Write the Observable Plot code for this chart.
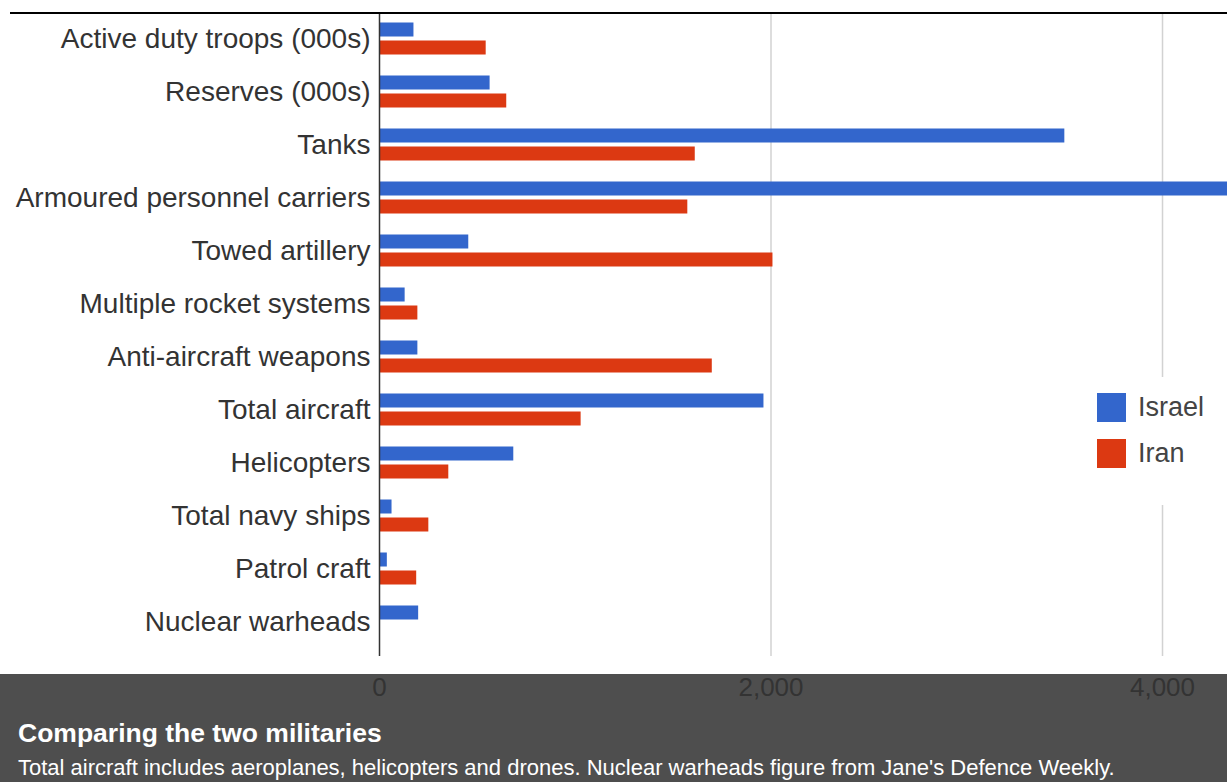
<!DOCTYPE html>
<html>
<head>
<meta charset="utf-8">
<script src="https://cdn.jsdelivr.net/npm/d3@7"></script>
<script src="https://cdn.jsdelivr.net/npm/@observablehq/plot@0.6"></script>
<style>
  html, body { margin: 0; padding: 0; overflow: hidden; background: #fff; }
  #page {
    position: relative; width: 1227px; height: 782px; overflow: hidden;
    background: linear-gradient(to bottom, #fff 0px, #fff 674px, #4e4e4e 674px, #4e4e4e 782px);
    font-family: Arial, "Liberation Sans", sans-serif;
  }
  #chart svg { display: block; background: transparent; }
  #topline { position: absolute; left: 10px; right: 0; top: 12px; height: 2px; background: #000; }
  #legend { position: absolute; left: 1088px; top: 377px; width: 139px; height: 128px; background: #fff; }
  .item { position: absolute; left: 9px; display: flex; align-items: center; height: 29px; }
  .sw { width: 29px; height: 29px; margin-right: 12px; }
  .lbl { font-size: 27px; color: #444; line-height: 29px; }
  #title { position: absolute; left: 18px; top: 720px; color: #fff; font-weight: bold; font-size: 26.5px; line-height: 26.5px; white-space: nowrap; }
  #caption { position: absolute; left: 18px; top: 757px; color: #fff; font-size: 22px; line-height: 22px; white-space: nowrap; }
</style>
</head>
<body>
<div id="page">
  <div id="chart"></div>
  <div id="topline"></div>
  <div id="legend"></div>
  <div id="title"></div>
  <div id="caption"></div>
</div>
<script>
// ---- data ----
const categories = [
  "Active duty troops (000s)",
  "Reserves (000s)",
  "Tanks",
  "Armoured personnel carriers",
  "Towed artillery",
  "Multiple rocket systems",
  "Anti-aircraft weapons",
  "Total aircraft",
  "Helicopters",
  "Total navy ships",
  "Patrol craft",
  "Nuclear warheads"
];
const israel = [176, 565, 3501, 10185, 456, 131, 196, 1964, 686, 64, 40, 200];
const iran   = [545, 650, 1613, 1575, 2010, 196, 1700, 1030, 354, 252, 190, 0];
const series = ["Israel", "Iran"];
const seriesColors = ["#3366cc", "#dc3912"];
const xTicks = [0, 2000, 4000];
const gridTicks = [2000, 4000];
const xMax = 4332;
const titleText = "Comparing the two militaries";
const captionText = "Total aircraft includes aeroplanes, helicopters and drones. Nuclear warheads figure from Jane's Defence Weekly.";

// ---- tables ----
const rowsIsrael = categories.map((c, i) => ({category: c, series: series[0], value: israel[i]}));
const rowsIran = categories.map((c, i) => ({category: c, series: series[1], value: iran[i]}));

const chart = Plot.plot({
  width: 1227,
  height: 705,
  marginLeft: 379,
  marginRight: 0,
  marginTop: 12,
  marginBottom: 49,
  style: {background: "transparent", fontFamily: "Arial, 'Liberation Sans', sans-serif"},
  x: {domain: [0, xMax]},
  y: {domain: categories, paddingInner: 0.332, paddingOuter: 0.139, align: 0.367},
  color: {domain: series, range: seriesColors},
  marks: [
    Plot.ruleX(gridTicks, {stroke: "#d2d2d2", strokeWidth: 1.5}),
    Plot.barX(rowsIsrael, {x: "value", y: "category", fill: "series", insetTop: 1.5, insetBottom: 19.5, clip: true}),
    Plot.barX(rowsIran, {x: "value", y: "category", fill: "series", insetTop: 19.5, insetBottom: 1.5, clip: true}),
    Plot.ruleX([0], {stroke: "#333", strokeWidth: 1.5}),
    Plot.axisX({ticks: xTicks, tickFormat: d3.format(","), tickSize: 0, tickPadding: 21, fontSize: 26, fill: "#333", label: null}),
    Plot.axisY({tickSize: 0, tickPadding: 9, fontSize: 28, fill: "#333", label: null})
  ]
});
document.getElementById("chart").appendChild(chart);

// ---- legend ----
const legend = document.getElementById("legend");
series.forEach((s, i) => {
  const item = document.createElement("div");
  item.className = "item";
  item.style.top = (16 + i * 46) + "px";
  const sw = document.createElement("div");
  sw.className = "sw";
  sw.style.background = seriesColors[i];
  const lbl = document.createElement("span");
  lbl.className = "lbl";
  lbl.textContent = s;
  item.appendChild(sw);
  item.appendChild(lbl);
  legend.appendChild(item);
});

document.getElementById("title").textContent = titleText;
document.getElementById("caption").textContent = captionText;
</script>
</body>
</html>
